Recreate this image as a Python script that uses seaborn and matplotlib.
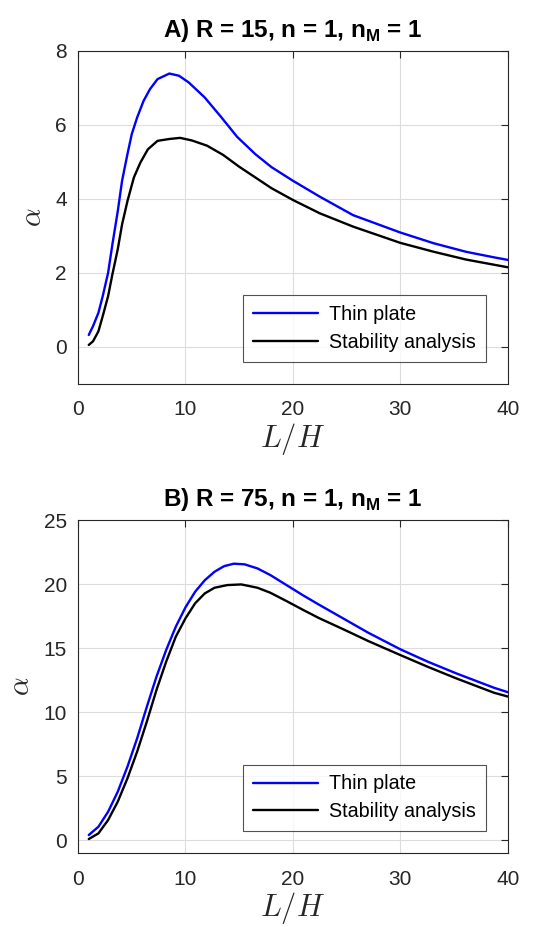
import numpy as np
import pandas as pd
import seaborn as sns
import matplotlib.pyplot as plt

# %%
# Panel A: R = 15
a_thin_x = [1, 1.4, 1.9, 2.3, 2.8, 3.2, 3.7, 4.1, 4.6, 5.0, 5.5, 6.1, 6.7, 7.4, 8.5, 9.4, 10.3,
            11.8, 13.3, 14.8, 16.5, 18.0, 20, 22.5, 25.6, 30, 33.1, 36.1, 38.7, 40]
a_thin_y = [0.32, 0.56, 0.92, 1.37, 2.0, 2.77, 3.67, 4.49, 5.21, 5.75, 6.2, 6.65, 6.97, 7.24, 7.39, 7.33, 7.15,
            6.74, 6.22, 5.68, 5.21, 4.86, 4.49, 4.06, 3.56, 3.09, 2.8, 2.57, 2.42, 2.35]
a_stab_x = [1, 1.4, 1.9, 2.3, 2.8, 3.2, 3.7, 4.1, 4.6, 5.2, 5.8, 6.5, 7.4, 8.5, 9.5, 10.6,
            12.0, 13.5, 15.0, 16.5, 18.0, 20, 22.5, 25.6, 30, 33.1, 36.1, 38.7, 40]
a_stab_y = [0.05, 0.15, 0.42, 0.83, 1.37, 1.96, 2.64, 3.31, 3.94, 4.58, 4.98, 5.34, 5.57, 5.62, 5.65, 5.58,
            5.44, 5.19, 4.87, 4.58, 4.29, 3.97, 3.61, 3.25, 2.81, 2.57, 2.36, 2.22, 2.15]

# Panel B: R = 75
b_thin_x = [1, 1.9, 2.8, 3.7, 4.6, 5.5, 6.4, 7.3, 8.2, 9.1, 10, 10.9, 11.8, 12.7, 13.6, 14.5, 15.5,
            16.7, 17.9, 19.4, 20.9, 22.4, 24.6, 27.0, 30, 32.5, 35.2, 38.7, 40]
b_thin_y = [0.39, 1.04, 2.21, 3.78, 5.73, 7.94, 10.4, 12.76, 14.84, 16.67, 18.18, 19.4, 20.3, 20.96, 21.4, 21.59, 21.54,
            21.22, 20.7, 19.92, 19.14, 18.4, 17.35, 16.2, 14.9, 13.95, 13.02, 11.9, 11.55]
b_stab_x = [1, 1.9, 2.8, 3.7, 4.6, 5.5, 6.4, 7.3, 8.2, 9.1, 10, 10.9, 11.8, 12.7, 13.9, 15.2,
            16.7, 17.9, 19.4, 20.9, 22.4, 24.6, 27.0, 30, 32.5, 35.2, 38.7, 40]
b_stab_y = [0.08, 0.52, 1.56, 3.0, 4.82, 6.9, 9.24, 11.72, 13.93, 15.89, 17.32, 18.5, 19.27, 19.71, 19.92, 19.97,
            19.71, 19.32, 18.67, 18.0, 17.35, 16.5, 15.55, 14.45, 13.55, 12.63, 11.51, 11.21]

labels = ['Thin plate', 'Stability analysis']
titles = [r'A) R = 15, n = 1, n$_{\mathbf{M}}$ = 1', r'B) R = 75, n = 1, n$_{\mathbf{M}}$ = 1']
ylims = [(-1, 8), (-1, 25)]
yticks = [[0, 2, 4, 6, 8], [0, 5, 10, 15, 20, 25]]


def long_df(tx, ty, sx, sy):
    return pd.DataFrame({
        'x': list(tx) + list(sx),
        'y': list(ty) + list(sy),
        'model': [labels[0]] * len(tx) + [labels[1]] * len(sx),
    })


panels = [long_df(a_thin_x, a_thin_y, a_stab_x, a_stab_y),
          long_df(b_thin_x, b_thin_y, b_stab_x, b_stab_y)]

# %%
sns.set_style('white')
plt.rcParams['font.family'] = ['Liberation Sans', 'DejaVu Sans']
plt.rcParams['mathtext.fontset'] = 'custom'
plt.rcParams['mathtext.rm'] = 'Liberation Sans'
plt.rcParams['mathtext.bf'] = 'Liberation Sans:bold'

fig = plt.figure(figsize=(5.38, 9.27), dpi=100)
axes = [fig.add_axes([0.145, 0.586, 0.799, 0.359]),
        fig.add_axes([0.145, 0.080, 0.799, 0.359])]

ink = '#262626'
for ax, df, title, yl, yt in zip(axes, panels, titles, ylims, yticks):
    sns.lineplot(data=df, x='x', y='y', hue='model', hue_order=labels,
                 palette={labels[0]: '#0000ff', labels[1]: '#000000'},
                 estimator=None, sort=True, linewidth=1.7, ax=ax)
    ax.set_xlim(0, 40)
    ax.set_ylim(*yl)
    ax.set_xticks([0, 10, 20, 30, 40])
    ax.set_yticks(yt)
    ax.grid(True, color='#dcdcdc', linewidth=0.8)
    ax.set_axisbelow(True)
    for s in ax.spines.values():
        s.set_color(ink)
        s.set_linewidth(0.8)
    ax.tick_params(direction='in', length=5, width=0.8, colors=ink,
                   labelsize=15, top=True, right=True)
    ax.tick_params(axis='x', pad=12)
    ax.tick_params(axis='y', pad=8)
    ax.set_title(title, fontsize=17.5, fontweight='bold', color='black', pad=10)
    ax.set_xlabel(r'$L/H$', fontsize=22, color=ink, math_fontfamily='cm', labelpad=1)
    ax.set_ylabel(r'$\alpha$', fontsize=21, color=ink, math_fontfamily='cm', labelpad=6)
    leg = ax.legend(loc='lower right', fontsize=14.2, frameon=True, fancybox=False,
                    handlelength=3.3, borderaxespad=1.1, borderpad=0.5,
                    labelspacing=0.45, handletextpad=0.6)
    leg.get_frame().set_edgecolor(ink)
    leg.get_frame().set_linewidth(0.8)
    for t in leg.get_texts():
        t.set_color('black')

fig.savefig('out.png', dpi=100, facecolor='white')
